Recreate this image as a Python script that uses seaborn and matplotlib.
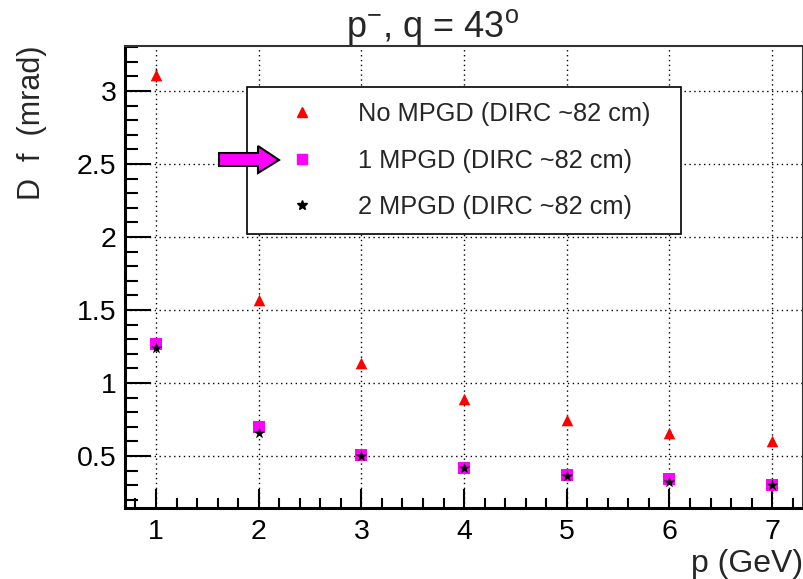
import matplotlib
matplotlib.use("Agg")
import matplotlib.pyplot as plt
import matplotlib.patches as mpatches
from matplotlib.ticker import MultipleLocator
from matplotlib.lines import Line2D
import seaborn as sns
import pandas as pd

# ---- data ----
momentum = [1, 2, 3, 4, 5, 6, 7]
no_mpgd = [3.11, 1.57, 1.14, 0.89, 0.75, 0.66, 0.60]
no_mpgd_err = [0.05, 0.01, 0.01, 0.01, 0.01, 0.01, 0.01]
one_mpgd = [1.27, 0.70, 0.51, 0.42, 0.37, 0.34, 0.30]
one_mpgd_err = [0.02, 0.01, 0.01, 0.01, 0.01, 0.01, 0.01]
two_mpgd = [1.24, 0.66, 0.50, 0.42, 0.36, 0.32, 0.30]
two_mpgd_err = [0.02, 0.01, 0.01, 0.01, 0.01, 0.01, 0.01]
labels = ["No MPGD (DIRC ~82 cm)", "1 MPGD (DIRC ~82 cm)", "2 MPGD (DIRC ~82 cm)"]
colors = ["#ff0000", "#ff00ff", "#000000"]
markers = ["^", "s", "*"]

sns.set_theme(style="white")
plt.rcParams["font.family"] = ["Liberation Sans", "DejaVu Sans"]
plt.rcParams["mathtext.fontset"] = "custom"
plt.rcParams["mathtext.rm"] = "Liberation Sans"
plt.rcParams["mathtext.it"] = "Liberation Sans"

W, H, DPI = 804, 579, 100
fig = plt.figure(figsize=(W / DPI, H / DPI), dpi=DPI)
L, R, T, B = 125, 803, 46, 508
ax = fig.add_axes([L / W, 1 - B / H, (R - L) / W, (B - T) / H])

series = [no_mpgd, one_mpgd, two_mpgd]
errs = [no_mpgd_err, one_mpgd_err, two_mpgd_err]
sizes = [70, 70, 75]
for vals, err, lab, c, m, s in zip(series, errs, labels, colors, markers, sizes):
    df = pd.DataFrame({"p": momentum, "v": vals})
    ax.errorbar(momentum, vals, yerr=err, fmt="none", ecolor="black", elinewidth=1, zorder=2)
    sns.scatterplot(data=df, x="p", y="v", marker=m, color=c, s=s, linewidth=0,
                    ax=ax, zorder=3, legend=False)

ax.set_xlim(0.698, 7.30)
ax.set_ylim(0.144, 3.308)
ax.xaxis.set_major_locator(MultipleLocator(1))
ax.xaxis.set_minor_locator(MultipleLocator(0.2))
ax.yaxis.set_major_locator(MultipleLocator(0.5))
ax.yaxis.set_minor_locator(MultipleLocator(0.1))
ax.yaxis.set_major_formatter(matplotlib.ticker.FuncFormatter(lambda v, p: f"{v:g}"))

ax.tick_params(axis="both", which="both", direction="in", labelsize=20.5, colors="black")
ax.tick_params(axis="y", which="major", length=19, width=1.5, pad=6)
ax.tick_params(axis="y", which="minor", length=9, width=1.5)
ax.tick_params(axis="x", which="major", length=14, width=1.5, pad=8)
ax.tick_params(axis="x", which="minor", length=7, width=1.5)
ax.tick_params(left=True, bottom=True, which="both")

ax.grid(True, which="major", color="black", linestyle=(0, (1, 2.5)), linewidth=1)
for side in ["left", "bottom"]:
    ax.spines[side].set_color("black")
    ax.spines[side].set_linewidth(2.2)
for side in ["top", "right"]:
    ax.spines[side].set_color("#333333")
    ax.spines[side].set_linewidth(1.5)

ax.set_xlabel("p (GeV)", fontsize=23, loc="right")
ax.xaxis.set_label_coords(1.0, -(572 - B) / (B - T))
ax.xaxis.label.set_va("baseline")
ax.set_ylabel("D  f  (mrad)", fontsize=22, loc="top")
ax.yaxis.set_label_coords(-(125 - 47) / (R - L), 1.0)

fig.text(433 / W, 1 - 37 / H, r"p$^{-}$, q = 43$^{\mathrm{o}}$", fontsize=26,
         ha="center", va="baseline")

handles = [Line2D([], [], linestyle="none", marker=m, color=c, markersize=ms)
           for m, c, ms in zip(markers, colors, [7, 7, 7.5])]
leg = ax.legend(handles, labels, loc="center",
                bbox_to_anchor=((247 - L) / (R - L), (B - 232) / (B - T),
                                (681 - 247) / (R - L), (232 - 89) / (B - T)),
                mode="expand", fontsize=18.3, frameon=True, fancybox=False,
                edgecolor="black", framealpha=1, borderpad=0.6,
                labelspacing=0.88, handlelength=3.1, handletextpad=0.68,
                borderaxespad=0)
leg.get_frame().set_linewidth(1.2)

# pointer arrow next to the legend
pts = [(219, 153), (258, 153), (258, 146), (279, 160), (258, 173), (258, 166), (219, 166)]
arrow = mpatches.Polygon([(x / W, 1 - y / H) for x, y in pts], closed=True,
                         facecolor="#ff00ff", edgecolor="black", linewidth=1.5,
                         transform=fig.transFigure, zorder=10)
fig.add_artist(arrow)

fig.savefig("out.png", dpi=DPI)
